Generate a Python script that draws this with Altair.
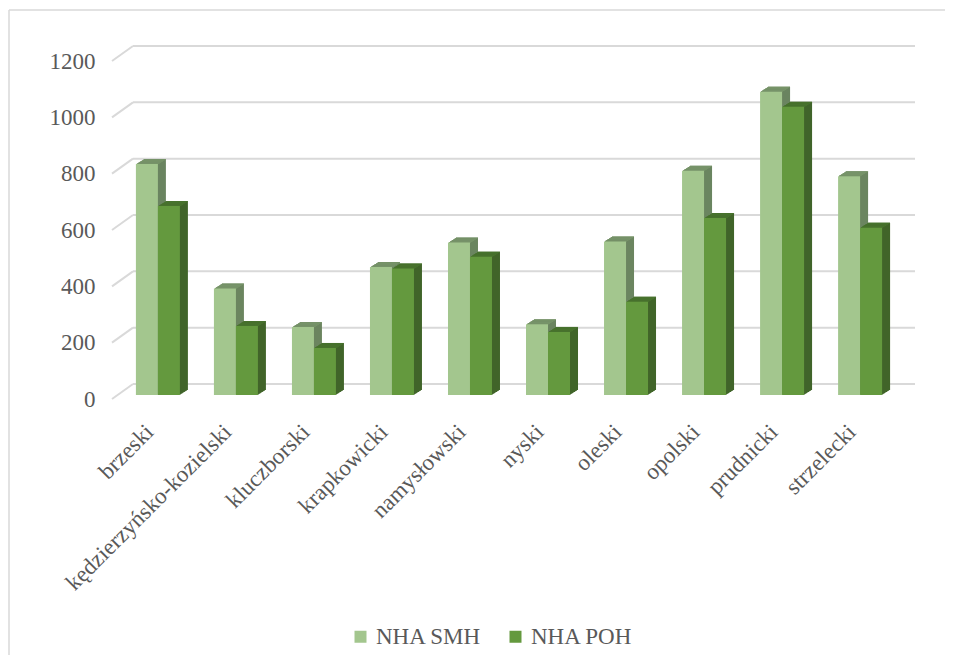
import altair as alt
import pandas as pd

categories = ["brzeski", "kędzierzyńsko-kozielski", "kluczborski", "krapkowicki",
              "namysłowski", "nyski", "oleski", "opolski", "prudnicki", "strzelecki"]
series = ["NHA SMH", "NHA POH"]
smh = [820, 378, 241, 454, 541, 251, 545, 796, 1077, 777]
poh = [671, 245, 167, 449, 491, 224, 331, 628, 1023, 594]
y_ticks = [0, 200, 400, 600, 800, 1000, 1200]

front_colors = ["#A3C68E", "#64993E"]
side_colors = ["#6B8560", "#41652A"]
top_colors = ["#7D9B6E", "#4C7A30"]

rows = []
for c, a, b in zip(categories, smh, poh):
    rows.append({"cat": c, "series": series[0], "value": a})
    rows.append({"cat": c, "series": series[1], "value": b})
df = pd.DataFrame(rows)
grid_df = pd.DataFrame({"value": y_ticks})
frame_df = pd.DataFrame({"k": [0]})

FONT = "Liberation Serif, Times New Roman, serif"
TXT = "#595959"
FS = 23
BAR_W = 22
DX, DY = 8, 5
STEPS = 8

yscale = alt.Scale(domain=[0, 1200], nice=False)
yaxis = alt.Axis(values=y_ticks, format="d", grid=False, domain=False, ticks=False,
                 labelPadding=23, labelOffset=4, labelFont=FONT,
                 labelFontSize=FS, labelColor=TXT)
xenc = alt.X("cat:N", sort=categories, title=None,
             scale=alt.Scale(paddingInner=0.437, paddingOuter=0.23),
             axis=alt.Axis(labelAngle=-45, labelAlign="right", labelBaseline="middle",
                           labelPadding=33, labelOffset=-8, domain=False, ticks=False,
                           labelLimit=0, labelFont=FONT, labelFontSize=FS,
                           labelColor=TXT))
yenc = alt.Y("value:Q", scale=yscale, title=None, axis=yaxis)

frame_top = alt.Chart(frame_df).mark_rule(color="#D9D9D9", strokeWidth=1.5).encode(
    x=alt.value(-109), x2=alt.value(900), y=alt.value(-47))
frame_left = alt.Chart(frame_df).mark_rule(color="#D9D9D9", strokeWidth=1.5).encode(
    x=alt.value(-109), y=alt.value(-47), y2=alt.value(700))

grid = alt.Chart(grid_df).mark_rule(color="#D9D9D9", strokeWidth=2, yOffset=-11).encode(
    y=yenc, x=alt.value(15), x2=alt.value(797))

diag = alt.Chart(grid_df).mark_rule(color="#D9D9D9", strokeWidth=2, yOffset=4, y2Offset=-11).encode(
    y=yenc, y2="value:Q", x=alt.value(-6), x2=alt.value(15))

base = alt.Chart(df)
back_layers = []
front_layers = []
for i, s in enumerate(series):
    off = -BAR_W / 2 if i == 0 else BAR_W / 2
    sub = base.transform_filter(alt.datum.series == s)
    # extruded depth drawn far-to-near as thin stepped copies
    for k in range(STEPS, 0, -1):
        sx = off + DX * k / STEPS
        sy = DY * k / STEPS
        sy_prev = DY * (k - 1) / STEPS
        back_layers.append(
            sub.mark_bar(width=BAR_W, xOffset=sx, yOffset=-sy, y2Offset=-sy,
                         color=side_colors[i]).encode(x=xenc, y=yenc))
        back_layers.append(
            sub.mark_bar(width=BAR_W, xOffset=sx, yOffset=-sy, y2Offset=-sy_prev,
                         color=top_colors[i]).encode(x=xenc, y=yenc, y2="value:Q"))
    front_layers.append(
        sub.mark_bar(width=BAR_W, xOffset=off).encode(
            x=xenc, y=yenc,
            color=alt.Color("series:N", sort=series,
                            scale=alt.Scale(domain=series, range=front_colors),
                            legend=alt.Legend(
                                orient="none", legendX=231, legendY=568,
                                direction="horizontal", title=None,
                                symbolType="square", symbolSize=144,
                                symbolStrokeWidth=0, labelFont=FONT,
                                labelFontSize=FS, labelColor=TXT,
                                columnPadding=22, labelOffset=4))))

chart = alt.layer(frame_top, frame_left, grid, diag, *back_layers, *front_layers).properties(
    width=782, height=338,
    autosize=alt.AutoSizeParams(type="none"),
    padding={"left": 110, "top": 49, "right": 45, "bottom": 260},
    background="white",
).configure_view(stroke=None)

chart.save("out.html", embed_options={"renderer": "svg", "actions": False})
